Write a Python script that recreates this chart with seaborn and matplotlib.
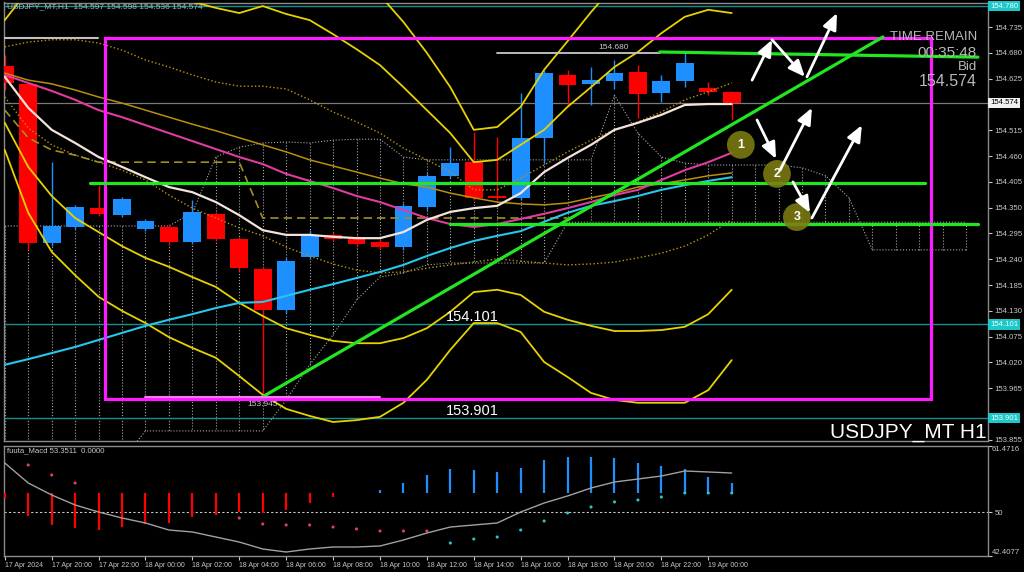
import matplotlib
matplotlib.use("Agg")
import matplotlib.pyplot as plt
import matplotlib.transforms as mtransforms
from matplotlib import font_manager
from matplotlib.patches import Rectangle
import seaborn as sns

# USDJPY H1, one bar per hour from 17 Apr 18:00 to 19 Apr 01:00
opens = [154.652, 154.614, 154.275, 154.309, 154.349, 154.334, 154.305, 154.309,
         154.277, 154.337, 154.283, 154.219, 154.132, 154.245, 154.292, 154.287,
         154.277, 154.266, 154.351, 154.418, 154.447, 154.375, 154.371, 154.499,
         154.633, 154.614, 154.620, 154.639, 154.594, 154.620, 154.605, 154.597]
highs = [154.676, 154.616, 154.447, 154.356, 154.398, 154.373, 154.326, 154.315,
         154.366, 154.341, 154.287, 154.226, 154.243, 154.302, 154.298, 154.292,
         154.281, 154.360, 154.424, 154.479, 154.511, 154.501, 154.595, 154.644,
         154.644, 154.650, 154.665, 154.654, 154.633, 154.680, 154.618, 154.598]
lows = [154.601, 154.260, 154.268, 154.305, 154.332, 154.330, 154.300, 154.270,
        154.273, 154.279, 154.215, 153.945, 154.125, 154.240, 154.279, 154.268,
        154.262, 154.260, 154.345, 154.413, 154.366, 154.366, 154.366, 154.445,
        154.567, 154.569, 154.603, 154.541, 154.575, 154.607, 154.590, 154.536]
closes = [154.616, 154.275, 154.311, 154.351, 154.337, 154.368, 154.322, 154.277,
          154.341, 154.283, 154.221, 154.132, 154.236, 154.292, 154.283, 154.273,
          154.266, 154.354, 154.418, 154.445, 154.371, 154.371, 154.499, 154.637,
          154.612, 154.622, 154.637, 154.592, 154.620, 154.658, 154.597, 154.574]

# moving averages
ma_fast = [154.629, 154.563, 154.516, 154.488, 154.458, 154.437, 154.415, 154.394,
           154.383, 154.362, 154.334, 154.302, 154.292, 154.292, 154.288, 154.285,
           154.285, 154.298, 154.324, 154.341, 154.349, 154.354, 154.381, 154.426,
           154.456, 154.484, 154.516, 154.531, 154.548, 154.569, 154.571, 154.571]
ma_mid = [154.633, 154.616, 154.599, 154.580, 154.558, 154.543, 154.526, 154.509,
          154.492, 154.475, 154.458, 154.443, 154.422, 154.407, 154.392, 154.375,
          154.362, 154.345, 154.328, 154.315, 154.309, 154.315, 154.326, 154.337,
          154.349, 154.362, 154.377, 154.388, 154.409, 154.430, 154.447, 154.467]
ma_slow = [154.015, 154.027, 154.040, 154.053, 154.068, 154.083, 154.098, 154.111,
           154.123, 154.136, 154.147, 154.149, 154.162, 154.175, 154.187, 154.200,
           154.213, 154.228, 154.247, 154.264, 154.279, 154.290, 154.300, 154.320,
           154.339, 154.354, 154.364, 154.375, 154.388, 154.398, 154.407, 154.415]
ma_olive = [154.637, 154.622, 154.614, 154.601, 154.586, 154.573, 154.558, 154.543,
            154.528, 154.514, 154.499, 154.484, 154.469, 154.452, 154.439, 154.426,
            154.413, 154.401, 154.394, 154.381, 154.371, 154.362, 154.358, 154.356,
            154.360, 154.371, 154.381, 154.394, 154.401, 154.409, 154.418, 154.424]

# bollinger bands (2 and 3 sigma solid, 1 sigma dotted)
bb_up2 = [154.750, 154.814, 154.857, 154.878, 154.878, 154.867, 154.846, 154.814,
          154.789, 154.776, 154.765, 154.780, 154.763, 154.750, 154.720, 154.688,
          154.654, 154.607, 154.558, 154.509, 154.447, 154.452, 154.484, 154.516,
          154.565, 154.607, 154.650, 154.682, 154.722, 154.757, 154.772, 154.765]
bb_up3 = [154.803, 154.899, 154.953, 154.995, 155.006, 155.006, 154.995, 154.985,
          154.963, 154.953, 154.953, 154.953, 154.942, 154.921, 154.889, 154.846,
          154.803, 154.746, 154.680, 154.607, 154.516, 154.522, 154.565, 154.644,
          154.705, 154.767, 154.825, 154.867, 154.910, 154.942, 154.963, 154.974]
bb_dn2 = [154.531, 154.437, 154.375, 154.328, 154.298, 154.268, 154.243, 154.224,
          154.202, 154.181, 154.147, 154.119, 154.093, 154.079, 154.066, 154.061,
          154.061, 154.072, 154.093, 154.128, 154.170, 154.175, 154.164, 154.128,
          154.111, 154.098, 154.087, 154.087, 154.089, 154.096, 154.123, 154.175]
bb_dn3 = [154.473, 154.339, 154.256, 154.206, 154.160, 154.130, 154.104, 154.074,
          154.051, 154.030, 153.991, 153.951, 153.921, 153.906, 153.893, 153.897,
          153.904, 153.934, 153.983, 154.047, 154.104, 154.104, 154.085, 154.021,
          153.989, 153.955, 153.940, 153.934, 153.934, 153.934, 153.961, 154.025]
bb_up1 = [154.693, 154.703, 154.708, 154.708, 154.701, 154.686, 154.665, 154.650,
          154.633, 154.618, 154.609, 154.609, 154.603, 154.580, 154.554, 154.533,
          154.509, 154.477, 154.452, 154.426, 154.388, 154.388, 154.413, 154.441,
          154.469, 154.494, 154.516, 154.533, 154.554, 154.580, 154.597, 154.616]
bb_dn1 = [154.586, 154.520, 154.484, 154.462, 154.447, 154.430, 154.409, 154.377,
          154.349, 154.328, 154.307, 154.290, 154.266, 154.247, 154.230, 154.217,
          154.211, 154.213, 154.221, 154.228, 154.234, 154.241, 154.236, 154.232,
          154.228, 154.230, 154.234, 154.243, 154.253, 154.268, 154.292, 154.324]

# ichimoku kijun and cloud (cloud runs 10 bars past the last candle)
kijun = [154.558, 154.499, 154.473, 154.462, 154.447, 154.447, 154.447, 154.447,
         154.447, 154.447, 154.447, 154.328, 154.328, 154.328, 154.328, 154.328,
         154.328, 154.328, 154.328, 154.328, 154.328, 154.328, 154.328, 154.328,
         154.328]
span_a = [154.311, 154.311, 154.311, 154.311, 154.311, 154.311, 154.311, 154.311,
          154.339, 154.458, 154.479, 154.488, 154.490, 154.488, 154.494, 154.496,
          154.496, 154.458, 154.452, 154.452, 154.452, 154.452, 154.452, 154.452,
          154.452, 154.452, 154.590, 154.509, 154.458, 154.445, 154.441, 154.441,
          154.441, 154.441, 154.435, 154.418, 154.371, 154.260, 154.260, 154.260,
          154.260, 154.260]
span_b = [153.812, 153.812, 153.812, 153.812, 153.812, 153.812, 153.874, 153.874,
          153.874, 153.874, 153.874, 153.874, 153.940, 154.015, 154.079, 154.153,
          154.202, 154.211, 154.228, 154.232, 154.232, 154.232, 154.232, 154.232,
          154.319, 154.319, 154.319, 154.319, 154.319, 154.319, 154.319, 154.319,
          154.319, 154.319, 154.319, 154.319, 154.319, 154.319, 154.319, 154.319,
          154.319, 154.319]

# lower oscillator (fuuta_Macd)
osc_base = 53.35
osc_hist = [52.5, 49.3, 47.8, 47.3, 46.9, 47.4, 47.9, 48.1, 49.2, 49.5, 50.0, 49.9,
            50.4, 51.6, 52.6, 53.35, 53.85, 55.1, 56.5, 57.5, 57.3, 57.0, 57.7, 59.0,
            59.6, 59.6, 59.4, 58.5, 58.0, 57.5, 56.1, 55.1]
osc_dots = [None, 58.18, 56.45, 55.06, None, None, None, None, None, None, 48.99,
            47.95, 47.78, 47.78, 47.43, 47.09, 46.74, 46.74, 46.74, 44.66, 45.35,
            45.70, 46.91, 48.47, 49.86, 50.90, 51.78, 52.11, 52.63, 53.33, 53.33, 53.33]
osc_line = [58.53, 55.06, 52.98, 51.25, 50.03, 48.99, 48.13, 46.91, 46.57, 45.70,
            44.83, 43.62, 43.10, 43.62, 43.97, 43.97, 44.14, 45.18, 46.39, 47.43,
            47.78, 48.13, 50.03, 51.59, 52.81, 54.19, 55.23, 55.75, 56.27, 57.14,
            56.97, 56.79]

price_ticks = [153.855, 153.910, 153.965, 154.020, 154.075, 154.130, 154.185, 154.240,
               154.295, 154.350, 154.405, 154.460, 154.515, 154.625, 154.680, 154.735]
time_labels = ["17 Apr 2024", "17 Apr 20:00", "17 Apr 22:00", "18 Apr 00:00",
               "18 Apr 02:00", "18 Apr 04:00", "18 Apr 06:00", "18 Apr 08:00",
               "18 Apr 10:00", "18 Apr 12:00", "18 Apr 14:00", "18 Apr 16:00",
               "18 Apr 18:00", "18 Apr 20:00", "18 Apr 22:00", "19 Apr 00:00"]

sns.set_theme(style="dark", rc={"axes.facecolor": "black", "figure.facecolor": "black",
                                "axes.edgecolor": "#8a8a8a", "axes.linewidth": 1.0})
plt.rcParams["font.family"] = ["Liberation Sans", "DejaVu Sans"]
names = {f.name for f in font_manager.fontManager.ttflist}
narrow = "Liberation Sans Narrow" in names

TXT = "#c8c8c8"
UP, DOWN = "#1e8fff", "#ff0000"

fig = plt.figure(figsize=(10.24, 5.72), dpi=100, facecolor="black")
ax = fig.add_axes([3.5 / 1024, 1 - 441 / 572, 984.5 / 1024, 438.5 / 572])
ax2 = fig.add_axes([3.5 / 1024, 1 - 556 / 572, 984.5 / 1024, 110 / 572])

n = len(closes)
idx = list(range(n))
cidx = list(range(len(span_a)))

# ichimoku cloud hatching
hatch_cols = ["#a8a8a8" if a >= b else "#c09a9a" for a, b in zip(span_a, span_b)]
ax.vlines(cidx, span_a, span_b, colors=hatch_cols, linestyles=":", lw=0.8, zorder=1)
ax.plot(cidx, span_a, ls=":", color="#a8a8a8", lw=0.8, zorder=1)
ax.plot(cidx, span_b, ls=":", color="#a8a8a8", lw=0.8, zorder=1)

# horizontal levels
for lvl in (154.780, 154.101, 153.901):
    ax.axhline(lvl, color="#178f8f", lw=1.0, zorder=1)
ax.axhline(154.574, color="#7a7a7a", lw=0.9, zorder=1)

# candles
cols = [UP if c >= o else DOWN for o, c in zip(opens, closes)]
ax.vlines(idx, lows, highs, colors=cols, lw=1.0, zorder=2)
ax.bar(idx, [c - o for o, c in zip(opens, closes)], bottom=opens, width=0.76,
       color=cols, linewidth=0, zorder=3)

# indicators
sns.lineplot(x=idx, y=bb_up3, ax=ax, color="#e6d200", lw=1.3, zorder=4)
sns.lineplot(x=idx, y=bb_up2, ax=ax, color="#e6d200", lw=1.3, zorder=4)
sns.lineplot(x=idx, y=bb_dn2, ax=ax, color="#e6d200", lw=1.3, zorder=4)
sns.lineplot(x=idx, y=bb_dn3, ax=ax, color="#e6d200", lw=1.3, zorder=4)
ax.plot(idx, bb_up1, ls=":", color="#b8960a", lw=1.0, zorder=4)
ax.plot(idx, bb_dn1, ls=":", color="#b8960a", lw=1.0, zorder=4)
ax.plot(range(len(kijun)), kijun, ls=(0, (5, 3)), color="#a09020", lw=1.2, zorder=4)
sns.lineplot(x=idx, y=ma_olive, ax=ax, color="#b8900a", lw=1.1, zorder=4)
sns.lineplot(x=idx, y=ma_slow, ax=ax, color="#27c6ea", lw=1.5, zorder=4)
sns.lineplot(x=idx, y=ma_mid, ax=ax, color="#e03ca0", lw=1.5, zorder=4)
sns.lineplot(x=idx, y=ma_fast, ax=ax, color="#f3e3da", lw=1.6, zorder=4)

# drawn objects
ax.add_patch(Rectangle((4.27, 153.942), 35.23, 0.770, fill=False,
                       edgecolor="#ff1aff", lw=2.3, zorder=6))
ax.plot([-0.03, 3.97], [154.712, 154.712], color="#c0c0c0", lw=1.5, zorder=5)
ax.plot([21.0, 27.93], [154.680, 154.680], color="#c8c8c8", lw=1.3, zorder=5)
ax.plot([5.98, 16.0], [153.947, 153.947], color="#f07af0", lw=1.5, zorder=7)
GREEN = "#22e622"
ax.plot([27.93, 41.5], [154.682, 154.671], color=GREEN, lw=2.3, zorder=6)
ax.plot([3.63, 39.24], [154.403, 154.403], color=GREEN, lw=2.3, zorder=6)
ax.plot([18.98, 41.5], [154.315, 154.315], color=GREEN, lw=2.3, zorder=6)
ax.plot([10.97, 37.45], [153.946, 154.714], color=GREEN, lw=2.3, zorder=6)

arrows = [((31.87, 154.622), (32.72, 154.708)), ((32.72, 154.708), (34.12, 154.629)),
          ((34.21, 154.629), (35.49, 154.765)), ((32.08, 154.537), (32.89, 154.454)),
          ((33.06, 154.430), (34.42, 154.563)), ((33.61, 154.405), (34.34, 154.339)),
          ((34.42, 154.328), (36.55, 154.526))]
for a, b in arrows:
    ax.annotate("", xy=b, xytext=a, zorder=8,
                arrowprops=dict(arrowstyle="-|>,head_length=0.7,head_width=0.3",
                                color="white", lw=2.0, mutation_scale=14,
                                shrinkA=0, shrinkB=0))

for num, (cx, cy) in zip(["1", "2", "3"], [(31.39, 154.484), (32.93, 154.422), (33.78, 154.330)]):
    ax.scatter([cx], [cy], s=400, color="#7d7d12", alpha=0.88, edgecolors="none", zorder=7)
    ax.text(cx, cy, num, color="white", fontsize=9, fontweight="bold",
            ha="center", va="center", zorder=9)

# texts in the chart
ax.text(0.09, 154.778, "USDJPY_MT,H1  154.597 154.598 154.536 154.574", color="#a8b8b8",
        fontsize=6, va="center", ha="left", zorder=9)
ax.text(25.98, 154.692, "154.680", color=TXT, fontsize=6, ha="center", va="center", zorder=9)
ax.text(10.98, 153.931, "153.945", color=TXT, fontsize=6, ha="center", va="center", zorder=9)
ax.text(19.94, 154.116, "154.101", color="white", fontsize=10.5, ha="center", va="center", zorder=9)
ax.text(19.94, 153.916, "153.901", color="white", fontsize=10.5, ha="center", va="center", zorder=9)
ax.text(19.94, 154.800, "154.780", color="white", fontsize=10.5, ha="center", va="center",
        zorder=9, clip_on=True)
ax.text(41.88, 153.871, "USDJPY_MT H1", color="white", fontsize=15, ha="right", va="center", zorder=9)
if narrow:
    ax.text(41.46, 154.714, "TIME REMAIN", color="#b8b8b8", fontsize=11.5, ha="right",
            va="center", family="Liberation Sans Narrow", zorder=9)
else:
    ax.text(41.46, 154.714, "TIME REMAIN", color="#b8b8b8", fontsize=9.5, ha="right",
            va="center", zorder=9)
ax.text(41.46, 154.680, "00:35:48", color="#b8b8b8", fontsize=11, ha="right", va="center", zorder=9)
ax.text(41.46, 154.651, "Bid", color="#b8b8b8", fontsize=9.5, ha="right", va="center", zorder=9)
ax.text(41.46, 154.619, "154.574", color="#b8b8b8", fontsize=11.5, ha="right", va="center", zorder=9)

ax.set_xlim(-0.055, 41.93)
ax.set_ylim(153.8525, 154.7875)
ax.set_xlabel("")
ax.set_ylabel("")
ax.yaxis.tick_right()
ax.set_yticks(price_ticks)
ax.set_yticklabels(["" if t == 153.910 else f"{t:.3f}" for t in price_ticks])
ax.tick_params(axis="y", colors=TXT, labelsize=5.6, length=3, width=0.8, pad=1.5,
               right=True, left=False)
ax.tick_params(axis="x", bottom=False, labelbottom=False)
ax.grid(False)

trans = mtransforms.blended_transform_factory(ax.transAxes, ax.transData)
for lvl, txt, fc, tc in [(154.780, "154.780", "#1ec8c8", "#e8ffff"),
                         (154.574, "154.574", "#f0f0f0", "#000000"),
                         (154.101, "154.101", "#1ec8c8", "#e8ffff"),
                         (153.901, "153.901", "#1ec8c8", "#e8ffff")]:
    ax.text(1.002, lvl, txt, transform=trans, color=tc, fontsize=5.6, ha="left",
            va="center", clip_on=False, zorder=10,
            bbox=dict(boxstyle="square,pad=0.2", fc=fc, ec="none"))

# oscillator panel
hcols = [UP if v > osc_base else (DOWN if v < osc_base else "#808080") for v in osc_hist]
ax2.vlines(idx, osc_base, osc_hist, colors=hcols, lw=1.6, zorder=3)
dot_x = [i for i, v in enumerate(osc_dots) if v is not None]
dot_y = [v for v in osc_dots if v is not None]
dot_c = ["#e03a7a" if i < 19 else "#2ec4c4" for i in dot_x]
ax2.scatter(dot_x, dot_y, s=5, c=dot_c, edgecolors="none", zorder=4)
sns.lineplot(x=idx, y=osc_line, ax=ax2, color="#a0a0a0", lw=1.0, zorder=4)
ax2.axhline(50, color="#c8c8c8", ls=(0, (2, 2)), lw=0.8, zorder=2)
ax2.text(0.09, 60.7, "fuuta_Macd 53.3511  0.0000", color=TXT, fontsize=5.6, ha="left",
         va="center")

ax2.set_xlim(-0.055, 41.93)
ax2.set_ylim(42.4077, 61.4716)
ax2.set_xlabel("")
ax2.set_ylabel("")
ax2.set_xticks(list(range(0, 31, 2)))
ax2.set_xticklabels(time_labels, ha="left")
ax2.tick_params(axis="x", colors=TXT, labelsize=5.0, length=3, width=0.8, pad=1.5, bottom=True)
ax2.yaxis.tick_right()
ax2.set_yticks([42.4077, 50, 61.4716])
ax2.set_yticklabels(["", "50", ""])
ax2.tick_params(axis="y", colors=TXT, labelsize=5.6, length=3, width=0.8, pad=1.5,
                right=True, left=False)
trans2 = mtransforms.blended_transform_factory(ax2.transAxes, ax2.transData)
ax2.text(1.004, 61.4716, "61.4716", transform=trans2, color=TXT, fontsize=5.6,
         ha="left", va="top", clip_on=False)
ax2.text(1.004, 42.4077, "42.4077", transform=trans2, color=TXT, fontsize=5.6,
         ha="left", va="bottom", clip_on=False)
ax2.grid(False)

fig.savefig("out.png", dpi=100, facecolor="black")
